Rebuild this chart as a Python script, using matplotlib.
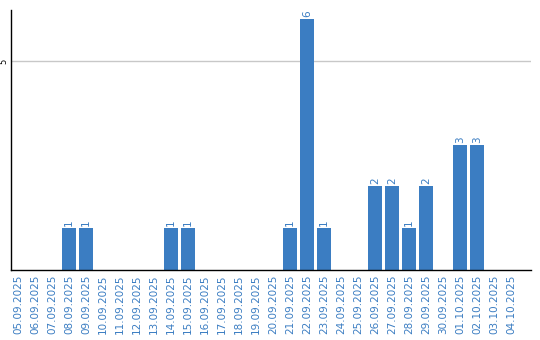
import numpy as np
import matplotlib
matplotlib.use("Agg")
import matplotlib.pyplot as plt

datas = ["05.09.2025", "06.09.2025", "07.09.2025", "08.09.2025", "09.09.2025",
         "10.09.2025", "11.09.2025", "12.09.2025", "13.09.2025", "14.09.2025",
         "15.09.2025", "16.09.2025", "17.09.2025", "18.09.2025", "19.09.2025",
         "20.09.2025", "21.09.2025", "22.09.2025", "23.09.2025", "24.09.2025",
         "25.09.2025", "26.09.2025", "27.09.2025", "28.09.2025", "29.09.2025",
         "30.09.2025", "01.10.2025", "02.10.2025", "03.10.2025", "04.10.2025"]
valores = [0, 0, 0, 1, 1,
           0, 0, 0, 0, 1,
           1, 0, 0, 0, 0,
           0, 1, 6, 1, 0,
           0, 2, 2, 1, 2,
           0, 3, 3, 0, 0]

azul = "#3b7dc2"

fig = plt.figure(figsize=(5.4, 3.4), dpi=100)
ax = fig.add_axes([11 / 540, 70 / 340, 520 / 540, 260 / 340])

x = np.arange(len(datas))
barras = ax.bar(x, valores, width=0.82, color=azul, zorder=2)

# rotulos em cima das barras (so onde tem valor)
for xi, v in zip(x, valores):
    if v > 0:
        ax.text(xi, v + 0.05, str(v), rotation=90, ha="center", va="bottom",
                color=azul, fontsize=7.5)

ax.set_xlim(-0.41, 30.18)
ax.set_ylim(0, 6.22)
ax.set_xticks(x)
ax.set_xticklabels(datas, rotation=90, color=azul, fontsize=7.5)
ax.set_yticks([5])
ax.set_yticklabels(["5"], rotation=90, va="center", fontsize=6)
ax.tick_params(axis="both", length=0, pad=3)
ax.tick_params(axis="y", pad=2)

ax.grid(axis="y", color="#c8c8c8", linewidth=1, zorder=0)
ax.spines["top"].set_visible(False)
ax.spines["right"].set_visible(False)
ax.spines["left"].set_color("black")
ax.spines["bottom"].set_color("black")
ax.spines["left"].set_linewidth(1.0)
ax.spines["bottom"].set_linewidth(1.0)

fig.savefig("out.png", dpi=100)
